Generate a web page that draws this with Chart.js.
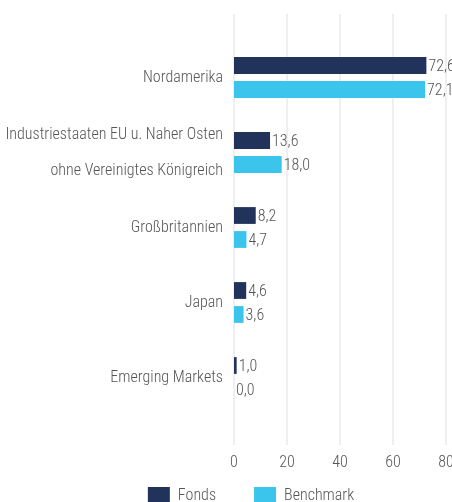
<!DOCTYPE html>
<html>
<head>
<meta charset="utf-8">
<script src="https://cdn.jsdelivr.net/npm/chart.js@4"></script>
<style>
  html, body { margin: 0; padding: 0; background: #fff; overflow: hidden; }
  #wrap { position: absolute; left: 0; top: 0; width: 512px; height: 539px; }
</style>
</head>
<body>
<div id="wrap"><canvas id="regionChart"></canvas></div>
<script>
// Daten
const regionen = [
    'Nordamerika',
    ['Industriestaaten EU u. Naher Osten', 'ohne Vereinigtes Königreich'],
    'Großbritannien',
    'Japan',
    'Emerging Markets'
];
const fonds = [72.6, 13.6, 8.2, 4.6, 1.0];
const benchmark = [72.1, 18.0, 4.7, 3.6, 0.0];
const xTicks = [0, 20, 40, 60, 80];

const schrift = "'Roboto Condensed', sans-serif";
const textFarbe = '#555555';
const groesse = 16;

// Gitterlinien etwas über den Diagrammbereich hinaus zeichnen
const gridPlugin = {
    id: 'longGrid',
    beforeDatasetsDraw(chart) {
        const ctx = chart.ctx;
        const x = chart.scales.x;
        const area = chart.chartArea;
        ctx.save();
        ctx.strokeStyle = '#efefef';
        ctx.lineWidth = 2;
        xTicks.forEach(v => {
            const px = Math.round(x.getPixelForValue(v));
            ctx.beginPath();
            ctx.moveTo(px, area.top - 26);
            ctx.lineTo(px, area.bottom + 30);
            ctx.stroke();
        });
        ctx.restore();
    }
};

// Werte rechts neben die Balken schreiben
const valuePlugin = {
    id: 'valueLabels',
    afterDatasetsDraw(chart) {
        const ctx = chart.ctx;
        ctx.save();
        ctx.font = '300 ' + groesse + 'px ' + schrift;
        ctx.fillStyle = textFarbe;
        ctx.textBaseline = 'middle';
        ctx.textAlign = 'left';
        chart.data.datasets.forEach((ds, i) => {
            chart.getDatasetMeta(i).data.forEach((bar, j) => {
                ctx.fillText(ds.data[j].toFixed(1).replace('.', ','), bar.x + 2, bar.y + 1);
            });
        });
        ctx.restore();
    }
};

// Legende näher an die Achsenbeschriftung schieben
const legendShift = {
    id: 'legendShift',
    afterLayout(chart) {
        chart.legend.top -= 24;
        chart.legend.bottom -= 24;
    }
};

const ctx = document.getElementById('regionChart').getContext('2d');
const chart = new Chart(ctx, {
    type: 'bar',
    data: {
        labels: regionen,
        datasets: [{
            label: 'Fonds',
            data: fonds,
            backgroundColor: '#21335b',
            barPercentage: 0.7,
            categoryPercentage: 0.64
        }, {
            label: 'Benchmark',
            data: benchmark,
            backgroundColor: '#3bc4ec',
            barPercentage: 0.7,
            categoryPercentage: 0.64
        }]
    },
    options: {
        indexAxis: 'y',
        responsive: true,
        maintainAspectRatio: false,
        animation: false,
        layout: {
            padding: { left: 6, right: 16, top: 40, bottom: 0 }
        },
        scales: {
            x: {
                min: 0,
                max: 80,
                afterBuildTicks: s => { s.ticks = xTicks.map(v => ({ value: v })); },
                afterFit: s => { s.height = 58; },
                grid: { display: false, drawTicks: false },
                border: { display: false },
                ticks: {
                    color: textFarbe,
                    font: { family: schrift, size: groesse, weight: 300 },
                    padding: 38
                }
            },
            y: {
                afterFit: s => { s.width = 228; },
                grid: { display: false, drawTicks: false },
                border: { display: false },
                ticks: {
                    autoSkip: false,
                    color: textFarbe,
                    font: { family: schrift, size: groesse, weight: 300, lineHeight: 2.25 },
                    padding: 11
                }
            },
            // leere Achse rechts als Platzhalter
            yRechts: {
                type: 'category',
                axis: 'y',
                position: 'right',
                afterFit: s => { s.width = 50; },
                grid: { display: false, drawTicks: false },
                border: { display: false },
                ticks: { display: false }
            }
        },
        plugins: {
            legend: {
                position: 'bottom',
                labels: {
                    boxWidth: 22,
                    boxHeight: 18,
                    padding: 38,
                    color: textFarbe,
                    font: { family: schrift, size: groesse, weight: 300 }
                }
            },
            tooltip: { enabled: false }
        }
    },
    plugins: [gridPlugin, valuePlugin, legendShift]
});
</script>
</body>
</html>
